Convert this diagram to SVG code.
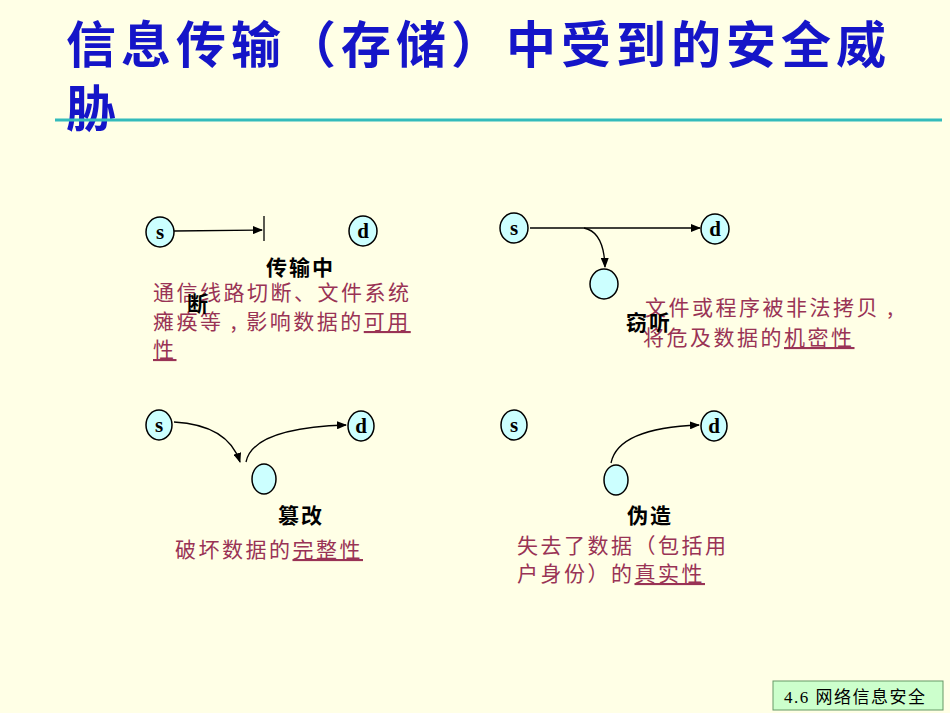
<svg xmlns="http://www.w3.org/2000/svg" width="950" height="713" viewBox="0 0 950 713">
<style>
.n{fill:#CCFFFF;stroke:#000;stroke-width:1.5}
.l{font-family:"Liberation Serif",serif;font-weight:bold;font-size:21px;text-anchor:middle}
.k{font-family:"Noto Sans CJK SC",sans-serif;font-weight:bold;font-size:21px;letter-spacing:2px;fill:#000}
.r{font-family:"Noto Sans CJK SC",sans-serif;font-size:21px;letter-spacing:2.5px;fill:#993355}
.c{fill:none;stroke:#000;stroke-width:1.3}
</style>
<defs><marker id="a" markerWidth="10" markerHeight="8" refX="9" refY="4" orient="auto" markerUnits="userSpaceOnUse"><path d="M0,0L10,4L0,8z" fill="#000"/></marker></defs>
<rect width="950" height="713" fill="#FFFFE6"/>
<text x="66" y="63" font-family="Noto Sans CJK SC,sans-serif" font-weight="bold" font-size="50" letter-spacing="5" fill="#1515C8">信息传输（存储）中受到的安全威</text>
<text x="66" y="127" font-family="Noto Sans CJK SC,sans-serif" font-weight="bold" font-size="50" fill="#1515C8">胁</text>
<line x1="55" y1="120" x2="942" y2="120" stroke="#33BBBB" stroke-width="3"/>
<g id="connectors">
<line class="c" x1="174" y1="231" x2="262" y2="230" marker-end="url(#a)"/>
<line class="c" x1="264" y1="216" x2="264" y2="241"/>
<line class="c" x1="530" y1="228" x2="700" y2="228" marker-end="url(#a)"/>
<path class="c" d="M584,228 Q604,232 605,267" marker-end="url(#a)"/>
<path class="c" d="M174,422 Q228,425 240,462" marker-end="url(#a)"/>
<path class="c" d="M246,462 Q253,428 346,425" marker-end="url(#a)"/>
<path class="c" d="M611,463 Q618,428 699,425" marker-end="url(#a)"/>
</g>
<g id="n1s"><ellipse class="n" cx="160" cy="232" rx="14" ry="15"/><text class="l" x="160" y="239">s</text></g>
<g id="n1d"><ellipse class="n" cx="363" cy="231" rx="14" ry="15"/><text class="l" x="363" y="238">d</text></g>
<g id="n2s"><ellipse class="n" cx="514" cy="228" rx="14" ry="15"/><text class="l" x="514" y="235">s</text></g>
<g id="n2d"><ellipse class="n" cx="715" cy="229" rx="14" ry="15"/><text class="l" x="715" y="236">d</text></g>
<g id="n2m"><ellipse class="n" cx="604" cy="284" rx="14" ry="15"/></g>
<g id="n3s"><ellipse class="n" cx="159" cy="425" rx="13" ry="15"/><text class="l" x="159" y="432">s</text></g>
<g id="n3d"><ellipse class="n" cx="361" cy="426" rx="13" ry="15"/><text class="l" x="361" y="433">d</text></g>
<g id="n3m"><ellipse class="n" cx="264" cy="479" rx="12" ry="15"/></g>
<g id="n4s"><ellipse class="n" cx="514" cy="425" rx="13" ry="15"/><text class="l" x="514" y="432">s</text></g>
<g id="n4d"><ellipse class="n" cx="714" cy="426" rx="13" ry="15"/><text class="l" x="714" y="433">d</text></g>
<g id="n4m"><ellipse class="n" cx="616" cy="480" rx="12" ry="15"/></g>
<g id="texts">
<text class="r" x="153" y="300">通信线路切断、文件系统</text>
<text class="r" x="153" y="329">瘫痪等 , 影响数据的<tspan text-decoration="underline">可用</tspan></text>
<text class="r" x="153" y="357" text-decoration="underline">性</text>
<text class="k" x="266" y="275">传输中</text>
<text class="k" x="187" y="311">断</text>
<text class="r" x="645" y="315">文件或程序被非法拷贝 ,</text>
<text class="r" x="643" y="345">将危及数据的<tspan text-decoration="underline">机密性</tspan></text>
<text class="k" x="626" y="330">窃听</text>
<text class="k" x="278" y="523">篡改</text>
<text class="r" x="175" y="557">破坏数据的<tspan text-decoration="underline">完整性</tspan></text>
<text class="k" x="627" y="523">伪造</text>
<text class="r" x="517" y="553">失去了数据（包括用</text>
<text class="r" x="517" y="581">户身份）的<tspan text-decoration="underline">真实性</tspan></text>
</g>
<g id="footer">
<rect x="773" y="681" width="170" height="29" fill="#CCFFCC" stroke="#669966"/>
<text x="784" y="703" font-family="Liberation Serif,Noto Sans CJK SC,serif" font-size="17" letter-spacing="1.5">4.6  网络信息安全</text>
</g>
</svg>
